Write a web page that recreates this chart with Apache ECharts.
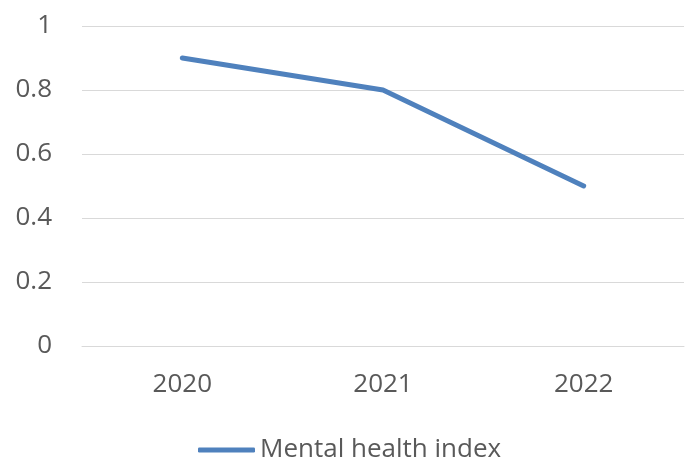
<!DOCTYPE html>
<html>
<head>
<meta charset="utf-8">
<script src="https://cdn.jsdelivr.net/npm/echarts@6/dist/echarts.min.js"></script>
<style>html,body{margin:0;padding:0;background:#fff}#c{width:689px;height:458px}</style>
</head>
<body>
<div id="c"></div>
<script>
const categories = ['2020', '2021', '2022'];
const seriesName = 'Mental health index';
const values = [0.9, 0.8, 0.5];

const chart = echarts.init(document.getElementById('c'), null, {renderer: 'canvas'});
const txt = '#595959';
const font = 'Open Sans';
chart.setOption({
  animation: false,
  backgroundColor: '#ffffff',
  grid: {left: 82, right: 5, top: 26, bottom: 112, containLabel: false},
  legend: {
    left: 193, top: 432,
    icon: 'roundRect', itemWidth: 57, itemHeight: 5, itemGap: 10,
    textStyle: {color: txt, fontFamily: font, fontSize: 26},
    data: [seriesName]
  },
  xAxis: {
    type: 'category', data: categories, boundaryGap: true,
    axisLine: {show: true, lineStyle: {color: '#D9D9D9', width: 1}},
    axisTick: {show: false},
    axisLabel: {color: txt, fontFamily: font, fontSize: 26, margin: 26}
  },
  yAxis: {
    type: 'value', min: 0, max: 1, interval: 0.2,
    axisLine: {show: false}, axisTick: {show: false},
    splitLine: {lineStyle: {color: '#D9D9D9', width: 1}},
    axisLabel: {color: txt, fontFamily: font, fontSize: 26, margin: 30,
      formatter: v => String(Math.round(v * 10) / 10)}
  },
  series: [{
    name: seriesName, type: 'line', data: values,
    showSymbol: false, symbol: 'none',
    lineStyle: {color: '#4F81BD', width: 5, cap: 'round', join: 'round'},
    itemStyle: {color: '#4F81BD'}
  }]
});
</script>
</body>
</html>
